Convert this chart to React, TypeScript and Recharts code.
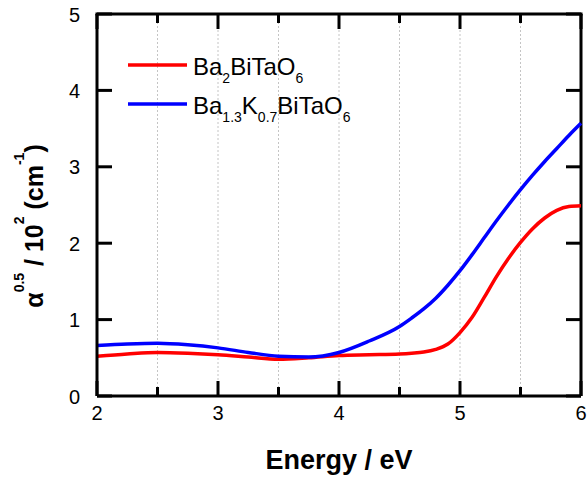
import React from 'react';
import { LineChart, Line, XAxis, YAxis, CartesianGrid, Customized } from 'recharts';

const energy = [2, 2.25, 2.5, 2.75, 3, 3.25, 3.5, 3.75, 4, 4.25, 4.5, 4.6, 4.7, 4.8, 4.9, 5, 5.1, 5.2, 5.3, 5.4, 5.5, 5.6, 5.7, 5.8, 5.9, 6];
const ba2BiTaO6 = [0.52, 0.55, 0.57, 0.56, 0.54, 0.51, 0.48, 0.5, 0.53, 0.54, 0.55, 0.56, 0.575, 0.61, 0.68, 0.83, 1.03, 1.29, 1.56, 1.8, 2.01, 2.19, 2.33, 2.43, 2.48, 2.49];
const ba13K07BiTaO6 = [0.66, 0.68, 0.69, 0.67, 0.63, 0.57, 0.52, 0.51, 0.57, 0.72, 0.91, 1.02, 1.14, 1.28, 1.45, 1.64, 1.85, 2.07, 2.29, 2.5, 2.7, 2.89, 3.07, 3.24, 3.41, 3.57];

const xTicks = [2, 2.5, 3, 3.5, 4, 4.5, 5, 5.5, 6];
const xMajor = [2, 3, 4, 5, 6];
const yTicks = [0, 1, 2, 3, 4, 5];
const X_DOMAIN: [number, number] = [2, 6];
const Y_DOMAIN: [number, number] = [0, 5];

type Part = { t: string; sub?: boolean };
const label1: Part[] = [{ t: 'Ba' }, { t: '2', sub: true }, { t: 'BiTaO' }, { t: '6', sub: true }];
const label2: Part[] = [
  { t: 'Ba' }, { t: '1.3', sub: true }, { t: 'K' }, { t: '0.7', sub: true }, { t: 'BiTaO' }, { t: '6', sub: true },
];
const seriesLabels = [label1, label2];
const seriesColors = ['#ff0000', '#0000ff'];

const data = energy.map((e, i) => ({ e, a: ba2BiTaO6[i], b: ba13K07BiTaO6[i] }));

const FONT = 'Liberation Sans, Arial, sans-serif';

// chart geometry
const W = 587;
const H = 483;
const M = { top: 14, right: 6, bottom: 0, left: 0 };
const Y_AXIS_W = 97;
const X_AXIS_H = 87;
const plotL = M.left + Y_AXIS_W;
const plotT = M.top;
const plotW = W - M.left - M.right - Y_AXIS_W;
const plotH = H - M.top - M.bottom - X_AXIS_H;
const plotR = plotL + plotW;
const plotB = plotT + plotH;
const MAJOR = 15;
const MINOR = 9;
// same linear mapping as the chart's number axes (for axis decoration)
const sx = (v: number) => plotL + ((v - X_DOMAIN[0]) / (X_DOMAIN[1] - X_DOMAIN[0])) * plotW;
const sy = (v: number) => plotB - ((v - Y_DOMAIN[0]) / (Y_DOMAIN[1] - Y_DOMAIN[0])) * plotH;

const renderParts = (parts: Part[]) => {
  let shift = 0;
  return parts.map((p, i) => {
    const target = p.sub ? 8 : 0;
    const dy = target - shift;
    shift = target;
    return (
      <tspan key={i} dy={dy} fontSize={p.sub ? 14 : 24}>
        {p.t}
      </tspan>
    );
  });
};

const BottomTick = (props: any) => {
  const v = props.payload.value;
  if (!xMajor.includes(v)) return <g />;
  return (
    <text x={props.x} y={Number(props.y) + 24} textAnchor="middle" fontSize={20} fill="#000" fontFamily={FONT}>
      {v}
    </text>
  );
};

const LeftTick = (props: any) => (
  <text x={Number(props.x) - 17} y={Number(props.y) + 7.5} textAnchor="end" fontSize={20} fill="#000" fontFamily={FONT}>
    {props.payload.value}
  </text>
);

const Frame = () => (
  <g>
    <line x1={plotL - 1.5} x2={plotR + 1.5} y1={plotT} y2={plotT} stroke="#000" strokeWidth={3} />
    <line x1={plotR} x2={plotR} y1={plotT} y2={plotB} stroke="#000" strokeWidth={3} />
    {xTicks.map((v) => {
      const len = xMajor.includes(v) ? MAJOR : MINOR;
      return (
        <g key={`x${v}`}>
          <line x1={sx(v)} x2={sx(v)} y1={plotB} y2={plotB - len} stroke="#000" strokeWidth={3} />
          <line x1={sx(v)} x2={sx(v)} y1={plotT} y2={plotT + len} stroke="#000" strokeWidth={3} />
        </g>
      );
    })}
    {yTicks.map((v) => (
      <g key={`y${v}`}>
        <line x1={plotL} x2={plotL + MAJOR} y1={sy(v)} y2={sy(v)} stroke="#000" strokeWidth={3} />
        <line x1={plotR} x2={plotR - MAJOR} y1={sy(v)} y2={sy(v)} stroke="#000" strokeWidth={3} />
      </g>
    ))}
  </g>
);

const AxisTitles = () => {
  const plotCx = plotL + plotW / 2;
  const yx = 43;
  const yy = 226;
  return (
    <g>
      <text x={plotCx} y={469} textAnchor="middle" fontSize={27} fontWeight="bold" fill="#000" fontFamily={FONT}>
        Energy / eV
      </text>
      <text
        x={yx}
        y={yy}
        transform={`rotate(-90, ${yx}, ${yy})`}
        textAnchor="middle"
        fontWeight="bold"
        fontSize={25}
        fill="#000"
        fontFamily={FONT}
      >
        <tspan>α</tspan>
        <tspan dy={-19} fontSize={14}>0.5</tspan>
        <tspan dy={19}> / 10</tspan>
        <tspan dy={-19} fontSize={14}>2</tspan>
        <tspan dy={19}> (cm</tspan>
        <tspan dy={-19} fontSize={14}>-1</tspan>
        <tspan dy={19}>)</tspan>
      </text>
    </g>
  );
};

const LegendBox = () => {
  const ox = 120;
  const oy = 40;
  return (
    <g>
      {seriesLabels.map((parts, i) => {
        const lineY = oy + 25 + i * 39;
        return (
          <g key={i}>
            <line x1={ox + 8} x2={ox + 67} y1={lineY} y2={lineY} stroke={seriesColors[i]} strokeWidth={3.5} />
            <text x={ox + 73} y={lineY + 10} fill="#000" fontFamily={FONT}>
              {renderParts(parts)}
            </text>
          </g>
        );
      })}
    </g>
  );
};

export default function App() {
  return (
    <div style={{ position: 'absolute', left: 0, top: 0 }}>
      <LineChart width={W} height={H} data={data} margin={M}>
        <CartesianGrid vertical horizontal={false} stroke="#c4c4c4" strokeDasharray="2 2" />
        <XAxis
          dataKey="e"
          type="number"
          domain={X_DOMAIN}
          ticks={xTicks}
          height={X_AXIS_H}
          tickSize={0}
          tickMargin={0}
          tickLine={false}
          axisLine={{ stroke: '#000', strokeWidth: 3 }}
          tick={BottomTick}
          interval={0}
        />
        <YAxis
          type="number"
          domain={Y_DOMAIN}
          ticks={yTicks}
          width={Y_AXIS_W}
          tickSize={0}
          tickMargin={0}
          tickLine={false}
          axisLine={{ stroke: '#000', strokeWidth: 3 }}
          tick={LeftTick}
          interval={0}
        />
        <Customized component={Frame} />
        <Customized component={AxisTitles} />
        <Customized component={LegendBox} />
        <Line dataKey="a" type="monotone" stroke={seriesColors[0]} strokeWidth={3.5} dot={false} isAnimationActive={false} />
        <Line dataKey="b" type="monotone" stroke={seriesColors[1]} strokeWidth={3.5} dot={false} isAnimationActive={false} />
      </LineChart>
    </div>
  );
}
